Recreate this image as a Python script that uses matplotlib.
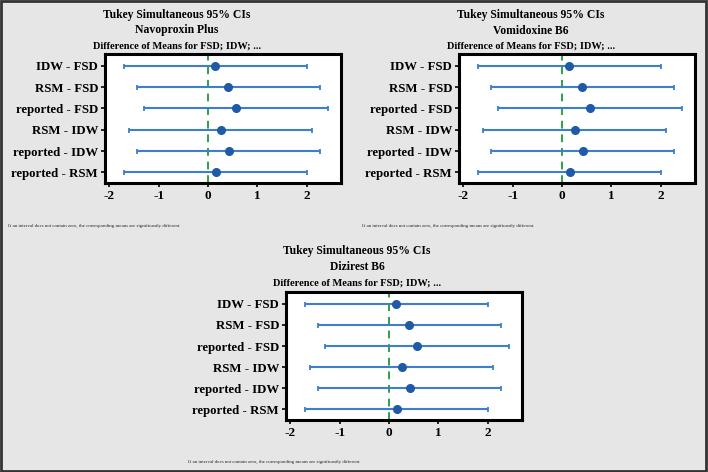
import matplotlib
matplotlib.use("Agg")
import matplotlib.pyplot as plt
from matplotlib.patches import Rectangle

# ---- data ----
comparisons = ["IDW - FSD", "RSM - FSD", "reported - FSD",
               "RSM - IDW", "reported - IDW", "reported - RSM"]
centers = [0.15, 0.41, 0.57, 0.26, 0.42, 0.16]
lowers = [-1.71, -1.45, -1.29, -1.60, -1.44, -1.70]
uppers = [2.01, 2.27, 2.43, 2.12, 2.28, 2.02]
panel_titles = ["Navoproxin Plus", "Vomidoxine B6", "Dizirest B6"]
xticks = [-2, -1, 0, 1, 2]
main_title = "Tukey Simultaneous 95% CIs"
sub_title = "Difference of Means for FSD; IDW; ..."
footnote = "If an interval does not contain zero, the corresponding means are significantly different."

W, H = 708, 472
fig = plt.figure(figsize=(W / 100, H / 100), dpi=100)
fig.patch.set_facecolor("#e6e6e6")
fig.patches.append(Rectangle((0.002, 0.003), 0.995, 0.994, transform=fig.transFigure,
                             fill=False, edgecolor="#333333", linewidth=2.0))

serif = ["Liberation Serif", "DejaVu Serif"]

panels = [
    dict(box=(105, 54, 341, 183), cx=177, ty=(15, 30.5, 46), fn=(8, 226)),
    dict(box=(459, 54, 695, 183), cx=531, ty=(15, 30.5, 46), fn=(362, 226)),
    dict(box=(286, 292, 522, 420), cx=357, ty=(251, 267.5, 283), fn=(188, 462)),
]

for p, name in zip(panels, panel_titles):
    l, t, r, b = p["box"]
    ax = fig.add_axes([l / W, 1 - b / H, (r - l) / W, (b - t) / H])
    ax.set_facecolor("white")
    ypos = list(range(1, len(comparisons) + 1))
    xerr = [[c - lo for c, lo in zip(centers, lowers)],
            [u - c for c, u in zip(centers, uppers)]]
    ax.errorbar(centers, ypos, xerr=xerr, fmt="o", color="#1f5aa6",
                ecolor="#3d7fcc", elinewidth=1.5, capsize=1.8, capthick=1.3,
                markersize=5.5, zorder=3)
    ax.axvline(0, color="#2ea043", linestyle=(0, (4, 3)), linewidth=1.4, zorder=2)
    ax.set_xlim(-2.09, 2.70)
    ax.set_ylim(6.5, 0.44)
    ax.set_yticks(ypos)
    ax.set_yticklabels(comparisons, fontfamily=serif, fontweight="bold", fontsize=9.2)
    ax.set_xticks(xticks)
    ax.set_xticklabels([str(v) for v in xticks], fontfamily=serif, fontweight="bold", fontsize=9.5)
    ax.tick_params(axis="both", direction="out", length=3, width=1.2, pad=2)
    for s in ax.spines.values():
        s.set_linewidth(2.2)
        s.set_color("black")
    ty1, ty2, ty3 = p["ty"]
    fig.text(p["cx"] / W, 1 - ty1 / H, main_title, ha="center", va="center",
             fontfamily=serif, fontweight="bold", fontsize=8.4)
    fig.text(p["cx"] / W, 1 - ty2 / H, name, ha="center", va="center",
             fontfamily=serif, fontweight="bold", fontsize=8.4)
    fig.text(p["cx"] / W, 1 - ty3 / H, sub_title, ha="center", va="center",
             fontfamily=serif, fontweight="bold", fontsize=7.5)
    fx, fy = p["fn"]
    fig.text(fx / W, 1 - fy / H, footnote, ha="left", va="center",
             fontfamily=serif, fontsize=3.5, color="#222222")

fig.savefig("out.png", dpi=100, facecolor=fig.get_facecolor())
